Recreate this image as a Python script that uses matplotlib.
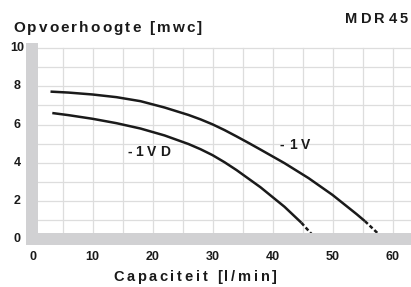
import matplotlib
matplotlib.use('Agg')
import matplotlib.pyplot as plt
import numpy as np
from matplotlib.font_manager import FontProperties
from matplotlib.textpath import TextToPath

# Data (flow l/min, head mwc)
v_flow = [3.0, 6.0, 10.0, 14.0, 18.0, 22.0, 26.0, 28.0, 30.0, 32.0, 34.0, 36.0, 38.0,
          42.0, 46.0, 50.0, 54.0, 55.4]
v_head = [7.72, 7.67, 7.57, 7.43, 7.22, 6.89, 6.50, 6.27, 6.01, 5.71, 5.38, 5.04, 4.69,
          3.98, 3.20, 2.32, 1.32, 0.95]
v_tail_flow = [55.4, 58.6]
v_tail_head = [0.95, 0.0]

vd_flow = [3.3, 6.0, 10.0, 14.0, 18.0, 22.0, 26.0, 28.0, 30.0, 32.0, 34.0, 38.0, 42.0, 44.8]
vd_head = [6.60, 6.49, 6.30, 6.07, 5.79, 5.43, 4.98, 4.71, 4.40, 4.03, 3.62, 2.72, 1.70, 0.87]
vd_tail_flow = [44.8, 47.3]
vd_tail_head = [0.87, 0.0]

x_ticks = [0, 10, 20, 30, 40, 50, 60]
y_ticks = [0, 2, 4, 6, 8, 10]

W, H = 411, 287
ink = '#1a1a1a'
bar_grey = '#d1d1d3'
grid_grey = '#dddddd'
font = 'Liberation Sans'

fig = plt.figure(figsize=(W / 100, H / 100), dpi=100)

# axes in pixel terms: x=0 at px 32.5, 6 px per l/min; y=0 at px 239.3, 19.13 px per mwc
ax_l, ax_r, ax_t, ax_b = 26, 411, 43.3, 245
ax = fig.add_axes([ax_l / W, 1 - ax_b / H, (ax_r - ax_l) / W, (ax_b - ax_t) / H])
x0, sx = 32.5, 6.0
y0, sy = 239.3, 19.13
ax.set_xlim((ax_l - x0) / sx, (ax_r - x0) / sx)
ax.set_ylim((y0 - ax_b) / sy, (y0 - ax_t) / sy)
xmax = ax.get_xlim()[1]

# grid
for gx in np.arange(5, 65, 5):
    ax.plot([gx, gx], [0, 10], color=grid_grey, lw=0.9, zorder=1)
for gy in np.arange(1, 11, 1):
    ax.plot([0, xmax], [gy, gy], color=grid_grey, lw=0.9, zorder=1)

# curves
ax.plot(v_flow, v_head, color=ink, lw=1.8, zorder=3, solid_capstyle='butt')
ax.plot(v_tail_flow, v_tail_head, color=ink, lw=1.8, zorder=3, linestyle=(0, (1.6, 1.0)))
ax.plot(vd_flow, vd_head, color=ink, lw=1.8, zorder=3, solid_capstyle='butt')
ax.plot(vd_tail_flow, vd_tail_head, color=ink, lw=1.8, zorder=3, linestyle=(0, (1.6, 1.0)))

# thick grey axis bars
ylo, yhi = ax.get_ylim()
xlo = ax.get_xlim()[0]
ax.fill_between([xlo, (38.3 - x0) / sx], ylo, yhi, color=bar_grey, lw=0, zorder=4)
ax.fill_between([xlo, xmax], ylo, (y0 - 233.3) / sy, color=bar_grey, lw=0, zorder=4)

for s in ax.spines.values():
    s.set_visible(False)
ax.set_xticks(x_ticks)
ax.set_xticklabels([str(t) for t in x_ticks])
ax.set_yticks(y_ticks)
ax.set_yticklabels([str(t) for t in y_ticks])
ax.tick_params(length=0, labelsize=9, colors=ink)
ax.tick_params(axis='x', pad=4.6)
ax.tick_params(axis='y', pad=6.5)
for lab in ax.get_xticklabels() + ax.get_yticklabels():
    lab.set_fontweight('bold')
    lab.set_family(font)
for lab in ax.get_yticklabels():
    lab.set_horizontalalignment('center')
    lab.set_verticalalignment('center')


ttp = TextToPath()


def spaced(x_px, base_px, s, size, width_px):
    # draw text letter by letter so it spans width_px (letter spaced look)
    prop = FontProperties(family=font, weight='bold', size=size)
    widths = [ttp.get_text_width_height_descent(c, prop, ismath=False)[0] * 100 / 72 for c in s]
    gap = (width_px - sum(widths)) / max(len(s) - 1, 1)
    x = x_px
    for c, w in zip(s, widths):
        fig.text(x / W, 1 - base_px / H, c, fontproperties=prop, color=ink,
                 ha='left', va='baseline')
        x += w + gap


spaced(13, 31.7, 'Opvoerhoogte [mwc]', 11, 189)
spaced(345, 23.3, 'MDR45', 10.5, 63)
spaced(113, 281, 'Capaciteit [l/min]', 10.5, 164)
spaced(280, 149, '- 1 V', 10, 30)
spaced(127, 156, '- 1 V D', 10, 43)

fig.savefig('out.png', dpi=100)
